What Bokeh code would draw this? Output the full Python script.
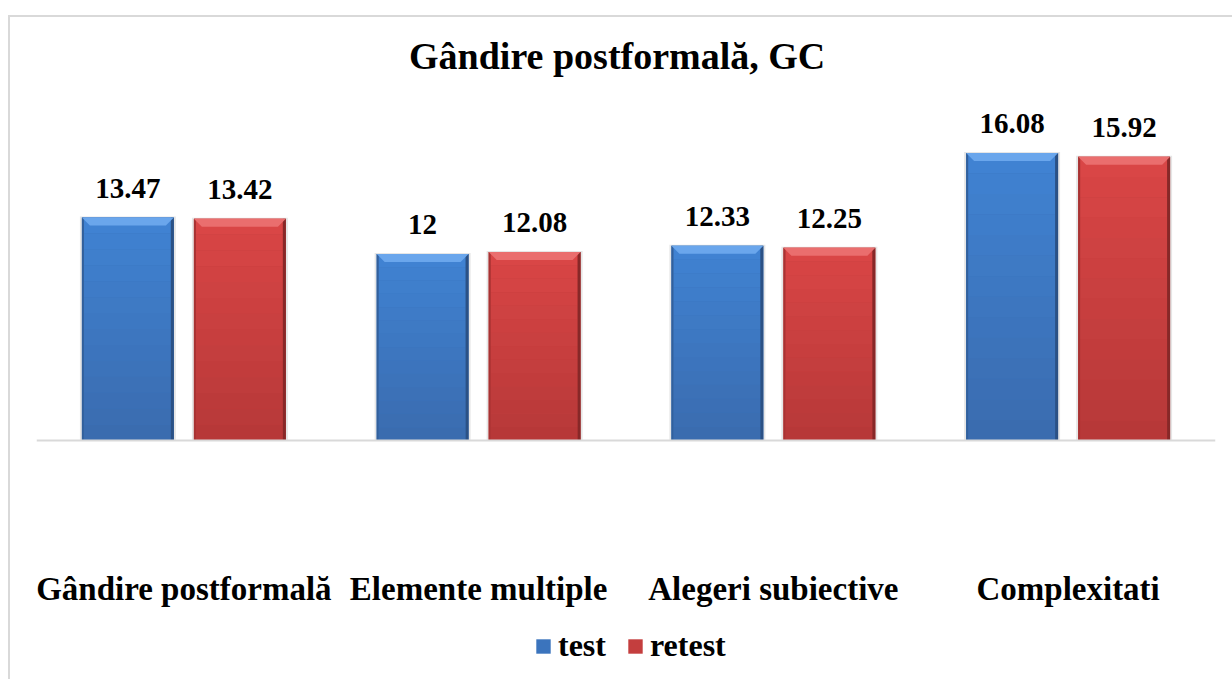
import numpy as np
from bokeh.plotting import figure
from bokeh.models import Range1d, FixedTicker, Legend, LegendItem
from bokeh.embed import file_html
from bokeh.resources import INLINE
from bokeh.core.properties import value

# ---- data ----
title_text = "Gândire postformală, GC"
categories = ["Gândire postformală", "Elemente multiple", "Alegeri subiective", "Complexitati"]
series_names = ["test", "retest"]
test_values = [13.47, 12.0, 12.33, 16.08]
retest_values = [13.42, 12.08, 12.25, 15.92]
test_labels = ["13.47", "12", "12.33", "16.08"]
retest_labels = ["13.42", "12.08", "12.25", "15.92"]

# ---- style ----
FONT = "Liberation Serif"
W, H = 1224, 664
Y0 = 4.46
PPU = 24.75                  # pixels per value unit
BASE_PX = 423                # baseline distance from the top of the canvas
Y_END = Y0 + BASE_PX / PPU
Y_START = Y_END - H / PPU
BAR_W = 0.312
OFFS = [-0.19, 0.19]
PX_X = 4.0 / 1179.0
PX_Y = 1.0 / PPU

styles = {
    "test": dict(top="#4083D3", bottom="#3A6BAE", mid="#3B74BD", left="#32609C",
                 right="#2B5185", bevel="#6AA6EC"),
    "retest": dict(top="#DA4646", bottom="#B63838", mid="#C43E3E", left="#A83333",
                   right="#872828", bevel="#EA6E6E"),
}

p = figure(width=W, height=H, output_backend="svg", toolbar_location=None,
           x_range=Range1d(0, 4), y_range=Range1d(Y_START, Y_END),
           min_border_left=26, min_border_right=19, min_border_top=0,
           min_border_bottom=0)
p.margin = (15, 0, 0, 8)
p.styles = {"border-left": "2px solid #D9D9D9", "border-top": "2px solid #D9D9D9"}
p.outline_line_color = None
p.grid.visible = False
p.yaxis.visible = False
p.background_fill_color = "white"
p.border_fill_color = "white"


def mix(c1, c2, t):
    a = np.array([int(c1[i:i + 2], 16) for i in (1, 3, 5)], dtype=float)
    b = np.array([int(c2[i:i + 2], 16) for i in (1, 3, 5)], dtype=float)
    c = a + (b - a) * t
    return "#%02X%02X%02X" % tuple(int(round(v)) for v in c)


legend_items = []
for si, (name, vals, labs) in enumerate(zip(series_names, [test_values, retest_values],
                                            [test_labels, retest_labels])):
    st = styles[name]
    xc = np.arange(len(categories)) + 0.5 + OFFS[si]
    vals = np.array(vals, dtype=float)
    left = xc - BAR_W / 2
    right = xc + BAR_W / 2
    p.quad(left=left - 2 * PX_X, right=right + 2 * PX_X, bottom=Y0, top=vals + PX_Y,
           fill_color="#E6E6E6", line_color=None)
    base = p.quad(left=left, right=right, bottom=Y0, top=vals,
                  fill_color=st["mid"], line_color=None)
    legend_items.append(LegendItem(label=name, renderers=[base]))
    N = 14
    for k in range(N):
        t0 = k / N
        t1 = (k + 1) / N
        b = vals - (vals - Y0) * t1
        tt = vals - (vals - Y0) * t0
        p.quad(left=left + 2 * PX_X, right=right - 3 * PX_X, bottom=b, top=tt,
               fill_color=mix(st["top"], st["bottom"], (t0 + t1) / 2), line_color=None)
    p.quad(left=left, right=left + 2 * PX_X, bottom=Y0, top=vals,
           fill_color=st["left"], line_color=None)
    p.quad(left=right - 3 * PX_X, right=right, bottom=Y0, top=vals,
           fill_color=st["right"], line_color=None)
    d = 8 * PX_X
    h = 8 * PX_Y
    xs = [[l, r, r - d, l + d] for l, r in zip(left, right)]
    ys = [[v, v, v - h, v - h] for v in vals]
    p.patches(xs=xs, ys=ys, fill_color=st["bevel"], line_color=None)
    p.text(x=xc, y=vals, text=labs, text_align="center", text_baseline="alphabetic",
           y_offset=-29, text_font=value(FONT), text_font_style="bold",
           text_font_size="29px", text_color="black")

# chart title (placed in the top part of the drawing area)
p.text(x=[1.97], y=[Y_END], text=[title_text], text_align="center",
       text_baseline="middle", y_offset=38, text_font=value(FONT),
       text_font_style="bold", text_font_size="38px", text_color="black")

# x axis (drawn at the baseline)
p.xaxis.fixed_location = Y0
p.xaxis.ticker = FixedTicker(ticks=[i + 0.5 for i in range(len(categories))])
p.xaxis.major_label_overrides = {i + 0.5: c for i, c in enumerate(categories)}
p.xaxis.axis_line_color = "#D9D9D9"
p.xaxis.axis_line_width = 2
p.xaxis.major_tick_line_color = None
p.xaxis.minor_tick_line_color = None
p.xaxis.major_label_standoff = 124
p.xaxis.major_label_text_font = FONT
p.xaxis.major_label_text_font_style = "bold"
p.xaxis.major_label_text_font_size = "33px"
p.xaxis.major_label_text_color = "black"

legend = Legend(items=legend_items, orientation="horizontal", location=(498, 17),
                glyph_width=18, glyph_height=18, label_standoff=6, spacing=20,
                label_text_font=FONT, label_text_font_style="bold",
                label_text_font_size="32px", label_text_color="black",
                border_line_color=None, background_fill_alpha=0, padding=4)
p.add_layout(legend, "center")

open("out.html", "w").write(file_html(p, INLINE))
